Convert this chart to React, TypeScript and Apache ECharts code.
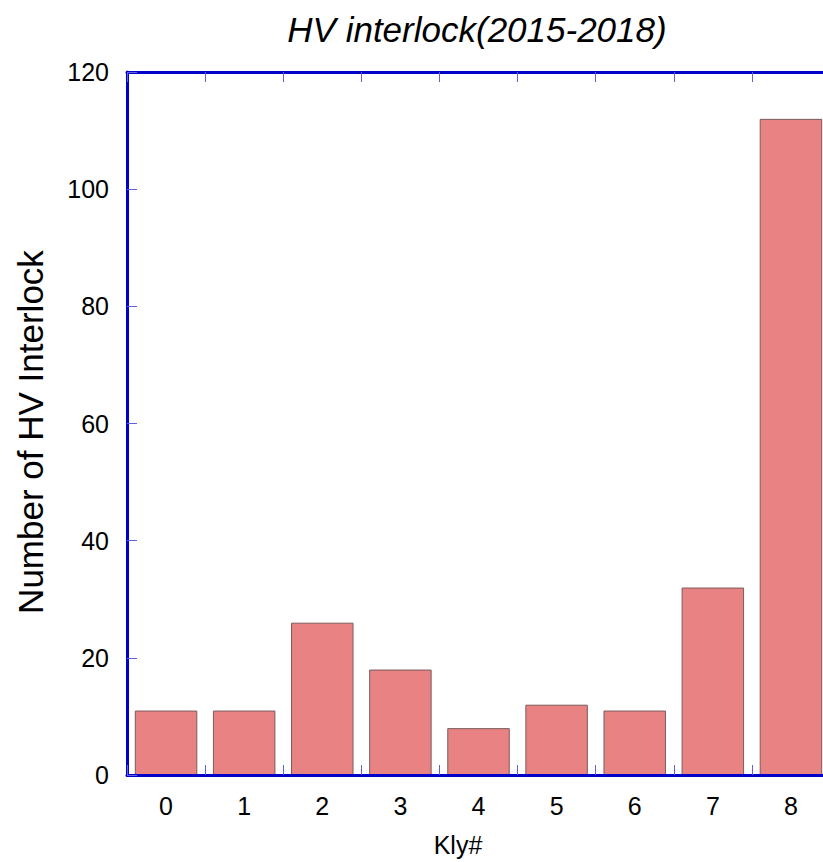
import React, { useEffect, useRef } from "react";
import * as echarts from "echarts";

const categories = ["0", "1", "2", "3", "4", "5", "6", "7", "8"];
const interlockCounts = [11, 11, 26, 18, 8, 12, 11, 32, 112];
const titleText = "HV interlock(2015-2018)";
const xName = "Kly#";
const yName = "Number of HV Interlock";

const FONT = "'Liberation Sans', Arial, Helvetica, sans-serif";
const AXIS_BLUE = "#0000c8";
const TICK_BLUE = "#6060e0";

export default function App() {
  const ref = useRef<HTMLDivElement>(null);
  useEffect(() => {
    if (!ref.current) return;
    const chart = echarts.init(ref.current, null, { renderer: "svg" });
    const axisLine = { show: true, lineStyle: { color: AXIS_BLUE, width: 3 } };
    const tick = { show: true, inside: true, length: 10, alignWithLabel: false, lineStyle: { color: TICK_BLUE, width: 1 } };
    chart.setOption({
      animation: false,
      grid: { left: 127, right: 0, top: 72, bottom: 87, containLabel: false },
      graphic: [
        {
          type: "text",
          x: 477,
          y: 29,
          style: {
            text: titleText,
            fontFamily: FONT,
            fontSize: 35,
            fontStyle: "italic",
            fill: "#000",
            textAlign: "center",
            textVerticalAlign: "middle",
          },
        },
        {
          type: "text",
          x: 458,
          y: 845,
          style: {
            text: xName,
            fontFamily: FONT,
            fontSize: 25,
            fill: "#000",
            textAlign: "center",
            textVerticalAlign: "middle",
          },
        },
        {
          type: "text",
          x: 30,
          y: 432,
          rotation: Math.PI / 2,
          style: {
            text: yName,
            fontFamily: FONT,
            fontSize: 35,
            fill: "#000",
            textAlign: "center",
            textVerticalAlign: "middle",
          },
        },
      ],
      xAxis: [
        {
          type: "category",
          data: categories,
          position: "bottom",
          z: 10,
          axisLine,
          axisTick: tick,
          axisLabel: { color: "#000", fontFamily: FONT, fontSize: 25, margin: 18 },
          splitLine: { show: false },
        },
        {
          type: "category",
          data: categories,
          position: "top",
          z: 10,
          axisLine,
          axisTick: tick,
          axisLabel: { show: false },
          splitLine: { show: false },
        },
      ],
      yAxis: [
        {
          type: "value",
          min: 0,
          max: 120,
          interval: 20,
          z: 10,
          axisLine,
          axisTick: { show: true, inside: true, length: 10, lineStyle: { color: TICK_BLUE, width: 1 } },
          axisLabel: { color: "#000", fontFamily: FONT, fontSize: 25, margin: 18 },
          splitLine: { show: false },
        },
      ],
      series: [
        {
          type: "bar",
          data: interlockCounts,
          xAxisIndex: 0,
          yAxisIndex: 0,
          barWidth: "80%",
          itemStyle: { color: "#e98282", borderColor: "#7a5c5c", borderWidth: 1 },
        },
      ],
    });
    return () => chart.dispose();
  }, []);
  return (
    <div style={{ width: 823, height: 862, position: "absolute", left: 0, top: 0, overflow: "hidden" }}>
      <div ref={ref} style={{ width: 830, height: 862 }} />
    </div>
  );
}
